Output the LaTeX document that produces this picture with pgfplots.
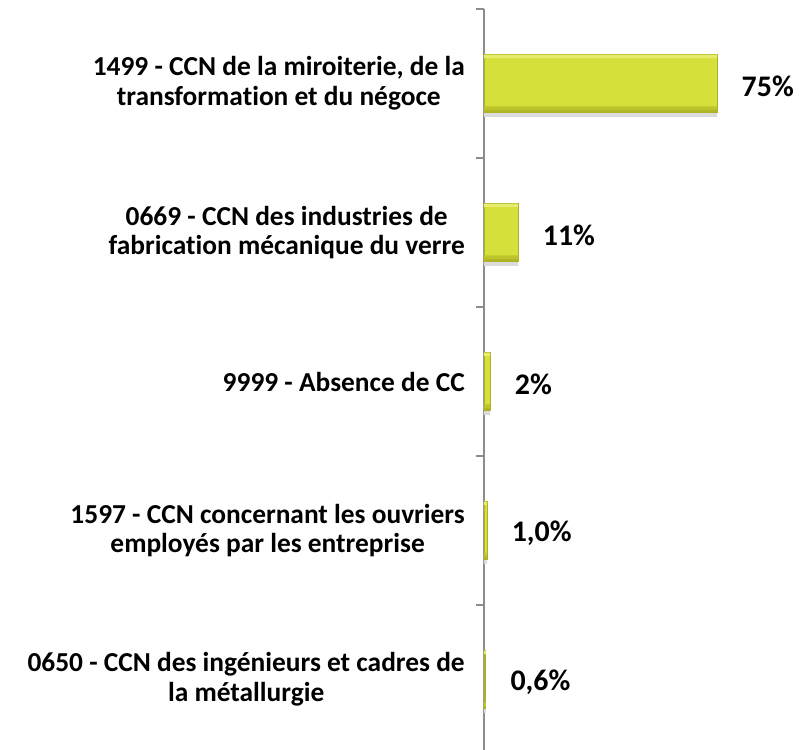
\documentclass[border=0pt]{standalone}
\usepackage{pgfplots}
\usepackage{pgfplotstable}
\pgfplotsset{compat=1.18}
\usepackage{fontspec}
\setmainfont{Carlito}[Ligatures=NoCommon]
\definecolor{barfill}{RGB}{214,224,58}
\definecolor{barlight}{RGB}{230,236,110}
\definecolor{bardark}{RGB}{176,182,36}
\definecolor{baredge}{RGB}{172,178,34}
\definecolor{axgray}{RGB}{140,140,140}
\pgfplotstableread{
x y lab
0.6 1 0,6
1.0 2 1,0
2 3 2
11 4 11
75 5 75
}\datatable
\begin{document}
\begin{tikzpicture}
\begin{axis}[name=ax,
 xbar, bar width=58bp, bar shift=0pt,
 scale only axis, width=310.7bp, height=745bp,
 xmin=0, xmax=100, ymin=0.5, ymax=5.5,
 axis x line=none, axis y line*=left,
 y axis line style={draw=axgray, line width=1.5bp, -},
 ytick={0.5,1.5,2.5,3.5,4.5,5.5},
 yticklabels={},
 major tick length=8bp, tick align=outside,
 ytick style={draw=axgray, line width=1.5bp},
 extra y ticks={1,2,3,4,5},
 extra y tick labels={{0650 - CCN des ingénieurs et cadres de\\la métallurgie},
              {1597 - CCN concernant les ouvriers\\employés par les entreprise},
              {9999 - Absence de CC},
              {0669 - CCN des industries de\\fabrication mécanique du verre},
              {1499 - CCN de la miroiterie, de la\\transformation et du négoce}},
 extra y tick style={major tick length=0pt, tick style={draw=none}},
 y tick label style={font=\fontsize{27.5}{30}\selectfont\bfseries, align=center, inner sep=0pt, xshift=-19bp},
 clip=false,
]
% shadow
\addplot[fill=black!14, draw=none, bar width=58bp, bar shift=-4.5bp] table[x=x,y=y] {\datatable};
% main bar
\addplot[fill=barfill, draw=baredge, line width=0.8bp,
  point meta=explicit symbolic,
  nodes near coords={\pgfplotspointmeta\%},
  every node near coord/.append style={anchor=west, xshift=21bp, yshift=-3bp, font=\fontsize{30}{30}\selectfont\bfseries, text=black}
  ] table[x=x,y=y,meta=lab] {\datatable};
% bevel: light top strip
\addplot[fill=barlight, draw=none, bar width=3.5bp, bar shift=27bp] table[x=x,y=y] {\datatable};
% bevel: dark bottom strip
\addplot[fill=bardark!65!barfill, draw=none, bar width=5bp, bar shift=-25.5bp] table[x=x,y=y] {\datatable};
\addplot[fill=bardark, draw=none, bar width=2.2bp, bar shift=-27.6bp] table[x=x,y=y] {\datatable};
\end{axis}
\path (ax.south west) ++(-484bp,4bp) coordinate (A);
\path (A) ++(811bp,750bp) coordinate (B);
\pgfresetboundingbox
\path (A) rectangle (B);
\end{tikzpicture}
\end{document}
